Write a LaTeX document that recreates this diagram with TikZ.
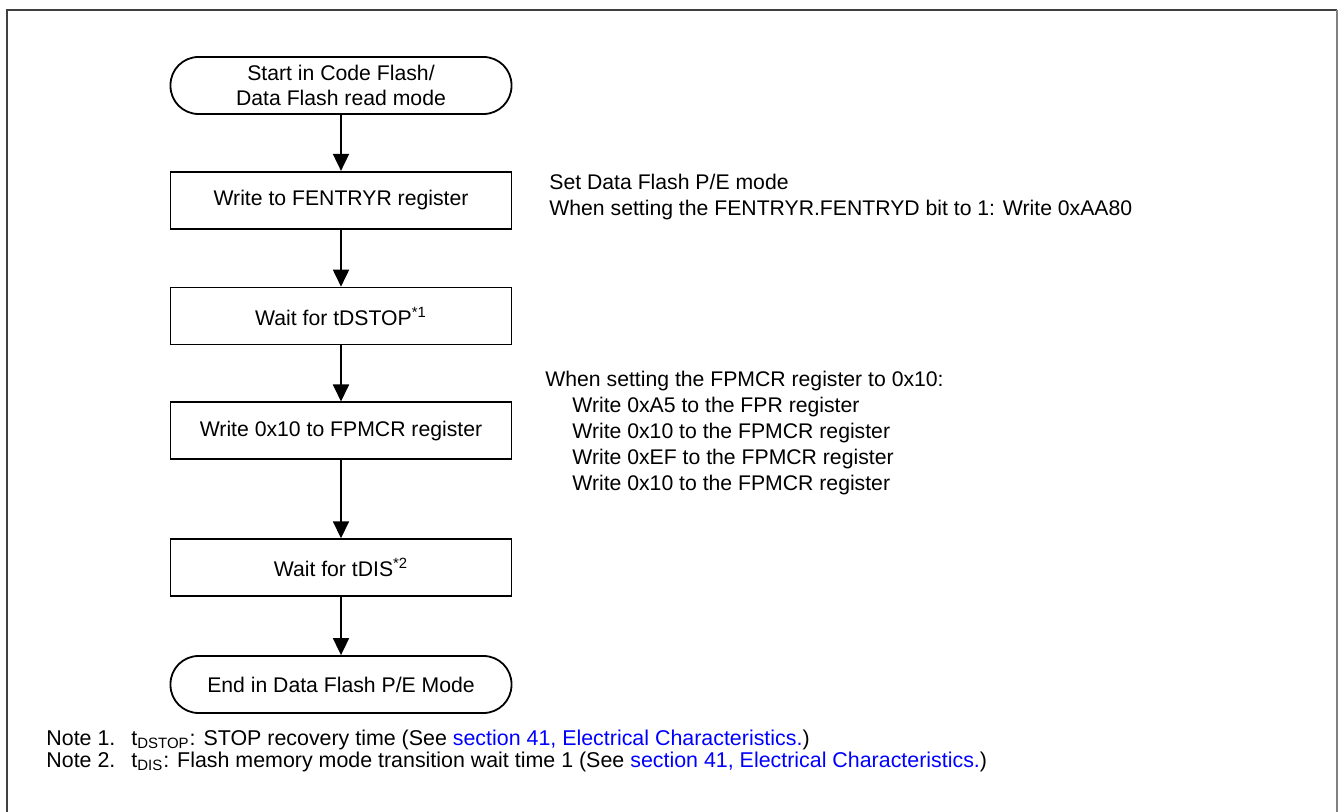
\documentclass[tikz,border=0pt]{standalone}
\usepackage{fontspec}
\setmainfont{Liberation Sans}
\usetikzlibrary{arrows.meta,positioning}
\definecolor{linkblue}{HTML}{0000FF}
\definecolor{framegray}{HTML}{404040}

\begin{document}
\begin{tikzpicture}[x=0.5pt, y=-0.5pt, >={Triangle[width=8pt,length=8.5pt]},
  node distance=28pt,
  every node/.style={font=\fontsize{10.6pt}{12.5pt}\selectfont},
  termbox/.style={draw, line width=0.9pt, rounded corners=14pt, minimum width=170.5pt, minimum height=28.5pt, inner sep=1.5pt, align=center},
  stepbox/.style={draw, line width=0.9pt, minimum width=170.5pt, minimum height=28.5pt, inner sep=2pt},
  flow/.style={->, line width=0.9pt},
  annot/.style={anchor=west, inner sep=0pt, align=left, font=\fontsize{10.6pt}{13pt}\selectfont},
  notetxt/.style={anchor=west, inner sep=0pt, align=left, font=\fontsize{10.7pt}{10.9pt}\selectfont}]
  \useasboundingbox (0,0) rectangle (1340,812);
  \draw[framegray, line width=0.8pt] (7,812) -- (7,10) -- (1337,10);
  \draw[gray, line width=1.1pt] (1337,10) -- (1337,812);

  % flow steps
  \node[termbox] (start) at (341,85.5) {Start in Code Flash/\\Data Flash read mode};
  \node[stepbox, below=of start] (fentry) {Write to FENTRYR register};
  \node[stepbox, below=28.5pt of fentry] (dstop) {Wait for tDSTOP\textsuperscript{*1}};
  \node[stepbox, below=of dstop] (fpmcr) {Write 0x10 to FPMCR register};
  \node[stepbox, below=39pt of fpmcr] (dis) {Wait for tDIS\textsuperscript{*2}};
  \node[termbox, below=29pt of dis] (finish) {End in Data Flash P/E Mode};

  \draw[flow] (start) -- (fentry);
  \draw[flow] (fentry) -- (dstop);
  \draw[flow] (dstop) -- (fpmcr);
  \draw[flow] (fpmcr) -- (dis);
  \draw[flow] (dis) -- (finish);

  % side remarks
  \node[annot] (fentrynote) at (549,197.5) {Set Data Flash P/E mode\\When setting the FENTRYR.FENTRYD bit to 1: Write 0xAA80};
  \node[annot] (fpmcrnote) at (545,433) {When setting the FPMCR register to 0x10:\\
    \hspace*{13.5pt}Write 0xA5 to the FPR register\\
    \hspace*{13.5pt}Write 0x10 to the FPMCR register\\
    \hspace*{13.5pt}Write 0xEF to the FPMCR register\\
    \hspace*{13.5pt}Write 0x10 to the FPMCR register};

  % notes
  \node[notetxt] (notes) at (46,751) {\makebox[42.5pt][l]{Note 1.}t\textsubscript{DSTOP}: STOP recovery time (See \textcolor{linkblue}{section 41, Electrical Characteristics.})\\
    \makebox[42.5pt][l]{Note 2.}t\textsubscript{DIS}: Flash memory mode transition wait time 1 (See \textcolor{linkblue}{section 41, Electrical Characteristics.})};
\end{tikzpicture}
\end{document}
